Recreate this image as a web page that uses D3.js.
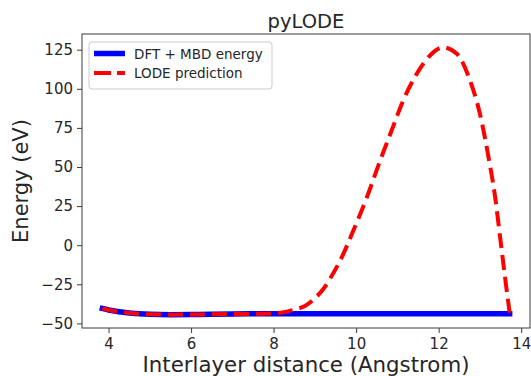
<!DOCTYPE html>
<html>
<head>
<meta charset="utf-8">
<script src="https://cdn.jsdelivr.net/npm/d3@7"></script>
<style>
  html, body { margin: 0; padding: 0; background: #fff; }
  svg { display: block; font-family: "DejaVu Sans", sans-serif; }
</style>
</head>
<body>
<svg id="chart" width="531" height="376"></svg>
<script>
// Interlayer distance (Angstrom) and reference DFT + MBD energies (eV)
const dftX = [3.85, 4.0, 4.25, 4.5, 4.75, 5.0, 5.5, 6.0, 6.5, 7.0, 7.5, 8.0, 8.5, 9.0, 9.5, 10.0, 10.5, 11.0, 11.5, 12.0, 12.5, 13.0, 13.5, 13.72];
const dftY = [-40.5, -41.4, -42.5, -43.3, -43.9, -44.2, -44.4, -44.3, -44.2, -44.0, -43.9, -43.8, -43.8, -43.8, -43.8, -43.8, -43.8, -43.8, -43.8, -43.8, -43.8, -43.8, -43.8, -43.8];

// LODE predictions (eV)
const lodeX = [3.85, 4.0, 4.25, 4.5, 4.75, 5.0, 5.5, 6.0, 6.5, 7.0, 7.5, 8.0, 8.25, 8.5, 8.76, 9.0, 9.2, 9.4, 9.61, 9.93, 10.29, 10.58, 10.86, 11.14, 11.47, 11.79, 12.11, 12.44, 12.76, 13.0, 13.21, 13.37, 13.49, 13.61, 13.72];
const lodeY = [-40.5, -41.4, -42.5, -43.3, -43.9, -44.2, -44.4, -44.3, -44.2, -44.0, -43.9, -43.6, -42.9, -41.2, -38.9, -34.0, -28.2, -20.0, -10.0, 9.2, 32.7, 54.0, 73.3, 92.5, 109.6, 121.3, 126.5, 122.4, 105.3, 84.0, 56.0, 30.5, 4.9, -20.8, -43.2];

const xTicks = [4, 6, 8, 10, 12, 14];
const yTicks = [-50, -25, 0, 25, 50, 75, 100, 125];

const seriesNames = ["DFT + MBD energy", "LODE prediction"];
const titleText = "pyLODE";
const xLabel = "Interlayer distance (Angstrom)";
const yLabel = "Energy (eV)";

const svg = d3.select("#chart");
const plot = { left: 82, right: 530, top: 34, bottom: 328 };

// Data limits padded by 5% on each side
const allX = dftX.concat(lodeX), allY = dftY.concat(lodeY);
const [x0, x1] = d3.extent(allX), [y0, y1] = d3.extent(allY);
const px = (x1 - x0) * 0.05, py = (y1 - y0) * 0.05;

const x = d3.scaleLinear().domain([x0 - px, x1 + px]).range([plot.left, plot.right]);
const y = d3.scaleLinear().domain([y0 - py, y1 + py]).range([plot.bottom, plot.top]);

const textColor = "#262626";
const axisColor = "#3a3a3a";

// Axes
const xAxis = svg.append("g")
  .attr("transform", `translate(0,${plot.bottom})`)
  .call(d3.axisBottom(x).tickValues(xTicks).tickSize(5).tickPadding(5).tickFormat(d3.format("d")));
const yAxis = svg.append("g")
  .attr("transform", `translate(${plot.left},0)`)
  .call(d3.axisLeft(y).tickValues(yTicks).tickSize(5).tickPadding(4)
    .tickFormat(d => d < 0 ? "\u2212" + Math.abs(d) : String(d)));
[xAxis, yAxis].forEach(g => {
  g.select(".domain").remove();
  g.selectAll(".tick line").attr("stroke", axisColor).attr("stroke-width", 1);
  g.selectAll(".tick text").attr("fill", textColor).style("font-size", "15px")
    .style("font-family", "'DejaVu Sans', sans-serif");
});

// Frame
svg.append("rect")
  .attr("x", plot.left).attr("y", plot.top)
  .attr("width", plot.right - plot.left).attr("height", plot.bottom - plot.top)
  .attr("fill", "none").attr("stroke", axisColor).attr("stroke-width", 1);

// Lines
const lineGen = (xs, ys) => d3.line()
  .x((d, i) => x(xs[i])).y((d, i) => y(ys[i]))
  .curve(d3.curveMonotoneX)(xs);

svg.append("path")
  .attr("d", lineGen(dftX, dftY))
  .attr("fill", "none").attr("stroke", "#0000ff")
  .attr("stroke-width", 5.5).attr("stroke-linecap", "square").attr("stroke-linejoin", "round");

svg.append("path")
  .attr("d", lineGen(lodeX, lodeY))
  .attr("fill", "none").attr("stroke", "#ff0000")
  .attr("stroke-width", 4).attr("stroke-dasharray", "15,7").attr("stroke-linejoin", "round");

// Title and axis labels
svg.append("text")
  .attr("x", (plot.left + plot.right) / 2).attr("y", 28)
  .attr("text-anchor", "middle").attr("fill", textColor)
  .style("font-size", "19.5px").text(titleText);

svg.append("text")
  .attr("x", (plot.left + plot.right) / 2).attr("y", 372)
  .attr("text-anchor", "middle").attr("fill", textColor)
  .style("font-size", "21.3px").text(xLabel);

svg.append("text")
  .attr("transform", `translate(28,${(plot.top + plot.bottom) / 2}) rotate(-90)`)
  .attr("text-anchor", "middle").attr("fill", textColor)
  .style("font-size", "21px").text(yLabel);

// Legend
const legend = svg.append("g").attr("transform", "translate(89,42)");
legend.append("rect")
  .attr("width", 183).attr("height", 47).attr("rx", 3)
  .attr("fill", "#fff").attr("fill-opacity", 0.8)
  .attr("stroke", "#cccccc").attr("stroke-width", 1);
const legendStyles = [
  { color: "#0000ff", width: 5.5, dash: null },
  { color: "#ff0000", width: 4, dash: "17,6" }
];
seriesNames.forEach((name, i) => {
  const cy = 11.5 + i * 19.5;
  legend.append("line")
    .attr("x1", 5).attr("x2", 36).attr("y1", cy).attr("y2", cy)
    .attr("stroke", legendStyles[i].color).attr("stroke-width", legendStyles[i].width)
    .attr("stroke-dasharray", legendStyles[i].dash);
  legend.append("text")
    .attr("x", 45).attr("y", cy + 5)
    .attr("fill", textColor).style("font-size", "13.5px").text(name);
});
</script>
</body>
</html>
